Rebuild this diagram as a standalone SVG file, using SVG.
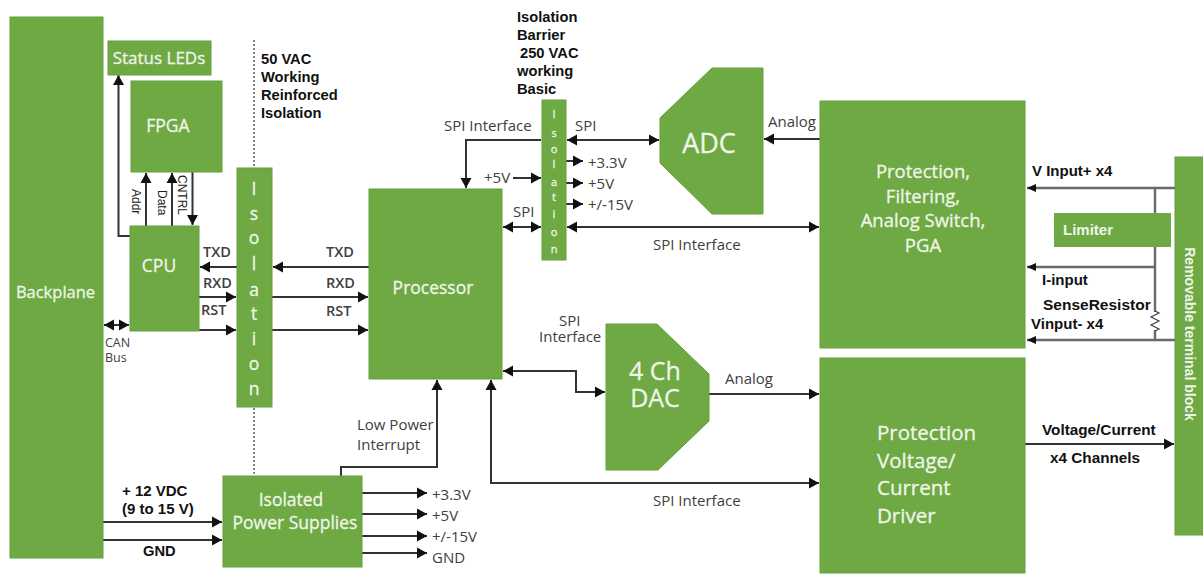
<svg xmlns="http://www.w3.org/2000/svg" width="1203" height="575" viewBox="0 0 1203 575">
<defs>
<marker id="ah" markerUnits="userSpaceOnUse" markerWidth="11" markerHeight="12" refX="10" refY="6" orient="auto-start-reverse"><path d="M0 0.500L10 6L0 11.500Z" fill="#111"/></marker>
</defs>
<style>
.b{fill:#6ea944;stroke:#65a03c;stroke-width:1}
.w{fill:#eef6e8;stroke:#eef6e8;stroke-width:.3;font-family:"Open Sans","Noto Sans",sans-serif;text-anchor:middle}
.g{fill:#404040;font-family:"Open Sans","Noto Sans",sans-serif;font-size:15px}
.s{font-size:14.500px;font-weight:600}
.k{fill:#111;font-family:"Liberation Sans",Arial,sans-serif;font-size:14.700px;font-weight:bold}
.t{fill:#222;font-family:"Liberation Sans",Arial,sans-serif;font-size:12px}
.c{fill:none;stroke:#333;stroke-width:2}
.a{marker-end:url(#ah)}
.d{marker-start:url(#ah);marker-end:url(#ah)}
.gr{fill:none;stroke:#6a6a6a;stroke-width:2.400}
.dot{fill:none;stroke:#888;stroke-width:2;stroke-dasharray:2 2}
</style>
<rect width="1203" height="575" fill="#fff"/>
<g id="connectors">
<path class="dot" d="M254 40V168M254 408V476"/>
<path class="c a" d="M130 236H118.500V75"/>
<path class="c a" d="M146 226V173"/>
<path class="c a" d="M172 226V173"/>
<path class="c a" d="M192.500 172V225"/>
<path class="c a" d="M237 267H200"/>
<path class="c a" d="M199 297H236"/>
<path class="c a" d="M199 330H236"/>
<path class="c a" d="M369 267H273"/>
<path class="c a" d="M272 297H368"/>
<path class="c a" d="M272 330H368"/>
<path class="c d" d="M104 325H129"/>
<path class="c a" d="M103 522H222"/>
<path class="c a" d="M103 540H222"/>
<path class="c a" d="M362 493H427"/>
<path class="c a" d="M362 514H427"/>
<path class="c a" d="M362 536H427"/>
<path class="c a" d="M362 553H427"/>
<path class="c a" d="M341 476V467H437V380"/>
<path class="c d" d="M491 380V483H819"/>
<path class="c d" d="M503 371H576V392H605"/>
<path class="c a" d="M709 394H819"/>
<path class="c a" d="M820 139H764"/>
<path class="c d" d="M567 140H659"/>
<path class="c a" d="M541 140H466V188"/>
<path class="c a" d="M513 178H541"/>
<path class="c a" d="M566 161H583"/>
<path class="c a" d="M566 183H583"/>
<path class="c a" d="M566 204H583"/>
<path class="c d" d="M503 227H541"/>
<path class="c d" d="M567 227H819"/>
<path class="c a" d="M1025 444H1174"/>
<path class="gr" d="M1175 188H1027M1155 188V312M1155 267H1027M1175 340H1027M1155 330V340"/>
<path d="M1027 188l9-4v8zM1027 267l9-4v8zM1027 340l9-4v8z" fill="#111"/>
<path d="M1155 311l4 2-8 4 8 4-8 4 8 4-4 2" fill="none" stroke="#444" stroke-width="1.200"/>
</g>
<g id="backplane"><rect class="b" x="10" y="17" width="93" height="541"/><text class="w" x="55.500" y="298" font-size="16.500">Backplane</text></g>
<g id="status-leds"><rect class="b" x="108" y="41" width="103" height="34"/><text class="w" x="159" y="64" font-size="17">Status LEDs</text></g>
<g id="fpga"><rect class="b" x="131" y="81" width="91" height="91"/><text class="w" x="168" y="132" font-size="17.500">FPGA</text></g>
<g id="cpu"><rect class="b" x="130" y="226" width="69" height="105"/><text class="w" x="159" y="272" font-size="17.500">CPU</text></g>
<g id="isolation-1"><rect class="b" x="237" y="168" width="35" height="239"/>
<text class="w" font-size="17.500"><tspan x="254" y="195">I</tspan><tspan x="254" y="220">s</tspan><tspan x="254" y="244">o</tspan><tspan x="254" y="270">l</tspan><tspan x="254" y="296">a</tspan><tspan x="254" y="320">t</tspan><tspan x="254" y="345">i</tspan><tspan x="254" y="370">o</tspan><tspan x="254" y="395">n</tspan></text></g>
<g id="processor"><rect class="b" x="369" y="189" width="133" height="190"/><text class="w" x="433" y="294" font-size="17.500">Processor</text></g>
<g id="power-supplies"><rect class="b" x="223" y="476" width="139" height="91"/><text class="w" font-size="17.500"><tspan x="291" y="506">Isolated</tspan><tspan x="295" y="529">Power Supplies</tspan></text></g>
<g id="isolation-2"><rect class="b" x="542" y="100" width="24" height="160"/>
<text class="w" font-size="11"><tspan x="554" y="118">I</tspan><tspan x="554" y="137">s</tspan><tspan x="554" y="153">o</tspan><tspan x="554" y="168">l</tspan><tspan x="554" y="186">a</tspan><tspan x="554" y="201">t</tspan><tspan x="554" y="218">i</tspan><tspan x="554" y="236">o</tspan><tspan x="554" y="253">n</tspan></text></g>
<g id="adc"><polygon class="b" points="712,68 763,68 763,214 712,214 660,163 660,118"/><text class="w" x="709" y="153" font-size="27">ADC</text></g>
<g id="dac"><polygon class="b" points="606,324 657,324 709,374 709,421 658,470 606,470"/><text class="w" font-size="25"><tspan x="655" y="380">4 Ch</tspan><tspan x="655" y="407">DAC</tspan></text></g>
<g id="protection"><rect class="b" x="820" y="101" width="205" height="247"/><text class="w" font-size="18.500"><tspan x="923" y="178">Protection,</tspan><tspan x="923" y="203">Filtering,</tspan><tspan x="923" y="227">Analog Switch,</tspan><tspan x="923" y="252">PGA</tspan></text></g>
<g id="driver"><rect class="b" x="820" y="358" width="205" height="215"/><text class="w" font-size="20.500" style="text-anchor:start"><tspan x="877" y="440">Protection</tspan><tspan x="877" y="468">Voltage/</tspan><tspan x="877" y="495">Current</tspan><tspan x="877" y="523">Driver</tspan></text></g>
<g id="terminal"><rect class="b" x="1175" y="157" width="28" height="378"/><text fill="#eef6e8" font-family="Liberation Sans,Arial,sans-serif" font-size="14" font-weight="bold" text-anchor="middle" transform="translate(1185 334) rotate(90)">Removable terminal block</text></g>
<g id="limiter"><rect x="1054" y="213" width="117" height="34" fill="#6ea944"/><text fill="#eef6e8" font-family="Liberation Sans,Arial,sans-serif" font-size="15" font-weight="bold" x="1063" y="235">Limiter</text></g>
<g id="labels">
<text class="k"><tspan x="261" y="64">50 VAC</tspan><tspan x="261" y="82">Working</tspan><tspan x="261" y="100">Reinforced</tspan><tspan x="261" y="118">Isolation</tspan></text>
<text class="k"><tspan x="517" y="22">Isolation</tspan><tspan x="517" y="40">Barrier</tspan><tspan x="520" y="58">250 VAC</tspan><tspan x="517" y="76">working</tspan><tspan x="517" y="94">Basic</tspan></text>
<text class="t" transform="translate(132 189) rotate(90)">Addr</text>
<text class="t" transform="translate(158 190) rotate(90)">Data</text>
<text class="t" transform="translate(178 175) rotate(90)">CNTRL</text>
<text class="g s" x="203" y="257">TXD</text>
<text class="g s" x="203" y="288">RXD</text>
<text class="g s" x="201" y="315">RST</text>
<text class="g s" x="326" y="257">TXD</text>
<text class="g s" x="326" y="288">RXD</text>
<text class="g s" x="326" y="316">RST</text>
<text class="g" style="font-size:12.500px"><tspan x="105" y="347">CAN</tspan><tspan x="105" y="362">Bus</tspan></text>
<text class="k" style="font-size:15px"><tspan x="122" y="496">+ 12 VDC</tspan><tspan x="122" y="514">(9 to 15 V)</tspan></text>
<text class="k" x="143" y="556">GND</text>
<text class="g"><tspan x="357" y="430">Low Power</tspan><tspan x="357" y="450">Interrupt</tspan></text>
<text class="g" x="432" y="500">+3.3V</text>
<text class="g" x="432" y="521">+5V</text>
<text class="g" x="432" y="542">+/-15V</text>
<text class="g" x="432" y="563">GND</text>
<text class="g" x="444" y="131">SPI Interface</text>
<text class="g" x="575" y="131">SPI</text>
<text class="g" x="484" y="183">+5V</text>
<text class="g" x="513" y="217">SPI</text>
<text class="g" x="588" y="168">+3.3V</text>
<text class="g" x="588" y="189">+5V</text>
<text class="g" x="588" y="210">+/-15V</text>
<text class="g" x="653" y="250">SPI Interface</text>
<text class="g" x="768" y="127">Analog</text>
<text class="g"><tspan x="559" y="326">SPI</tspan><tspan x="539" y="342">Interface</tspan></text>
<text class="g" x="725" y="384">Analog</text>
<text class="g" x="653" y="506">SPI Interface</text>
<text class="k" style="font-size:15px" x="1032" y="176">V Input+ x4</text>
<text class="k" style="font-size:15px" x="1042" y="285">I-input</text>
<text class="k" style="font-size:15.500px" x="1043" y="310">SenseResistor</text>
<text class="k" style="font-size:15px" x="1031" y="329">Vinput- x4</text>
<text class="k" style="font-size:15.300px" x="1042" y="435">Voltage/Current</text>
<text class="k" style="font-size:15.300px" x="1050" y="463">x4 Channels</text>
</g>
</svg>
